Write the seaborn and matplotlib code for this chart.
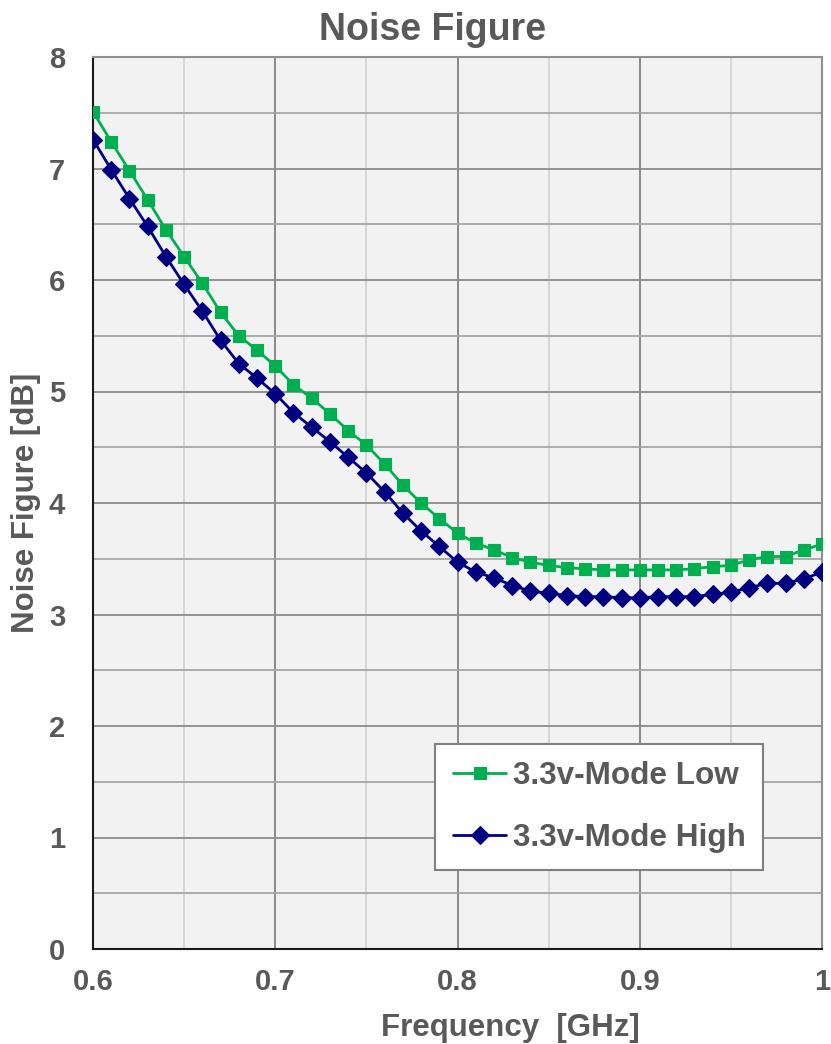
import numpy as np
import pandas as pd
import matplotlib
matplotlib.use("Agg")
import matplotlib.pyplot as plt
import seaborn as sns
from matplotlib.ticker import MultipleLocator, FuncFormatter

# Frequency sweep in GHz
freq_ghz = [0.60, 0.61, 0.62, 0.63, 0.64, 0.65, 0.66, 0.67, 0.68, 0.69,
            0.70, 0.71, 0.72, 0.73, 0.74, 0.75, 0.76, 0.77, 0.78, 0.79,
            0.80, 0.81, 0.82, 0.83, 0.84, 0.85, 0.86, 0.87, 0.88, 0.89,
            0.90, 0.91, 0.92, 0.93, 0.94, 0.95, 0.96, 0.97, 0.98, 0.99, 1.00]

# Noise figure [dB], low-gain mode
nf_low = [7.51, 7.24, 6.98, 6.72, 6.45, 6.21, 5.97, 5.71, 5.50, 5.37,
          5.23, 5.06, 4.94, 4.80, 4.65, 4.52, 4.35, 4.16, 4.00, 3.86,
          3.73, 3.64, 3.58, 3.51, 3.47, 3.44, 3.42, 3.41, 3.40, 3.40,
          3.40, 3.40, 3.40, 3.41, 3.43, 3.44, 3.49, 3.52, 3.52, 3.58, 3.63]

# Noise figure [dB], high-gain mode
nf_high = [7.26, 6.99, 6.73, 6.48, 6.21, 5.96, 5.72, 5.46, 5.25, 5.12,
           4.98, 4.81, 4.68, 4.55, 4.41, 4.27, 4.10, 3.91, 3.75, 3.61,
           3.47, 3.38, 3.33, 3.26, 3.21, 3.19, 3.17, 3.16, 3.16, 3.15,
           3.15, 3.16, 3.16, 3.16, 3.18, 3.20, 3.24, 3.28, 3.28, 3.32, 3.38]

series_names = ["3.3v-Mode Low", "3.3v-Mode High"]

df = pd.DataFrame({
    "freq": freq_ghz * 2,
    "nf": nf_low + nf_high,
    "mode": [series_names[0]] * len(freq_ghz) + [series_names[1]] * len(freq_ghz),
})

sns.set_style("white")
plt.rcParams["font.family"] = ["Liberation Sans", "DejaVu Sans"]
plt.rcParams["font.weight"] = "bold"

TEXT = "#595959"

fig = plt.figure(figsize=(8.31, 10.44), dpi=100)
ax = fig.add_axes([93 / 831, 1 - 949 / 1044, 729 / 831, 892 / 1044])
ax.set_facecolor("#F2F2F2")

sns.lineplot(
    data=df, x="freq", y="nf", hue="mode", style="mode",
    palette={series_names[0]: "#00B050", series_names[1]: "#000080"},
    markers={series_names[0]: "s", series_names[1]: "D"},
    dashes=False, markersize=9, linewidth=2.0,
    ax=ax, zorder=3,
)

# marker edges drawn in the line colour
for ln in ax.lines:
    ln.set_markeredgewidth(0.8)
    ln.set_markeredgecolor(ln.get_color())
    ln.set_markersize(9)

ax.set_xlim(0.6, 1.0)
ax.set_ylim(0, 8)
ax.xaxis.set_major_locator(MultipleLocator(0.1))
ax.xaxis.set_minor_locator(MultipleLocator(0.05))
ax.yaxis.set_major_locator(MultipleLocator(1))
ax.yaxis.set_minor_locator(MultipleLocator(0.5))
ax.xaxis.set_major_formatter(FuncFormatter(lambda v, p: f"{v:g}"))

ax.grid(which="major", axis="x", color="#808080", linewidth=1.3, zorder=1)
ax.grid(which="minor", axis="x", color="#D4D4D4", linewidth=1.3, zorder=1)
ax.grid(which="major", axis="y", color="#8C8C8C", linewidth=1.3, zorder=1)
ax.grid(which="minor", axis="y", color="#A6A6A6", linewidth=1.3, zorder=1)
ax.set_axisbelow(True)

ax.tick_params(which="both", length=0)
ax.tick_params(axis="x", pad=14, labelsize=21, labelcolor=TEXT)
ax.tick_params(axis="y", pad=20, labelsize=21, labelcolor=TEXT)
for lbl in ax.get_xticklabels() + ax.get_yticklabels():
    lbl.set_fontweight("bold")

for side in ["left", "bottom"]:
    ax.spines[side].set_color("#1A1A1A")
    ax.spines[side].set_linewidth(1.5)
for side in ["top", "right"]:
    ax.spines[side].set_color("#909090")
    ax.spines[side].set_linewidth(1.5)

ax.set_title("Noise Figure", fontsize=27, fontweight="bold", color=TEXT, pad=12)
ax.title.set_x(0.466)
ax.set_xlabel("Frequency  [GHz]", fontsize=22.5, fontweight="bold", color=TEXT, labelpad=12)
ax.xaxis.label.set_x(0.573)
ax.set_ylabel("Noise Figure [dB]", fontsize=22.5, fontweight="bold", color=TEXT, labelpad=6)

handles, labels = ax.get_legend_handles_labels()
leg = ax.legend(
    handles, labels, loc="lower right", bbox_to_anchor=(0.919, 0.0886),
    borderaxespad=0, frameon=True, fancybox=False, framealpha=1,
    edgecolor="#808080", facecolor="white", handlelength=1.7,
    borderpad=0.55, labelspacing=1.0, handletextpad=0.2,
    prop={"size": 22.7, "weight": "bold"},
)
leg.get_frame().set_linewidth(1.5)
for t in leg.get_texts():
    t.set_color(TEXT)

fig.savefig("out.png", dpi=100, facecolor="white")
